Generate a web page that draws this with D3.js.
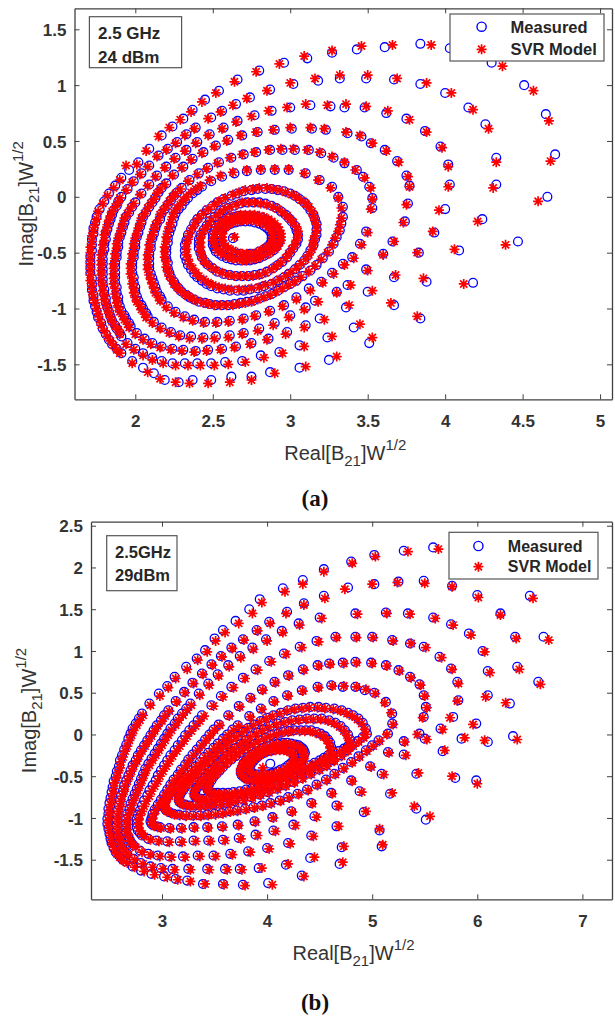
<!DOCTYPE html>
<html><head><meta charset="utf-8">
<script src="https://cdn.jsdelivr.net/npm/d3@7"></script>
<style>
body{margin:0;background:#fff}
svg{display:block;background:#fff}
</style></head>
<body><svg id="chart" width="615" height="1018"></svg>
<script>
// All point coordinates below are in hundredths of a unit (x = Real, y = Imag).
// ---------------- Panel (a) data : 2.5 GHz, 24 dBm ----------------
const aXTicks = [2, 2.5, 3, 3.5, 4, 4.5, 5];
const aXTickLabels = ["2", "2.5", "3", "3.5", "4", "4.5", "5"];
const aYTicks = [-1.5, -1, -0.5, 0, 0.5, 1, 1.5];
const aYTickLabels = ["-1.5", "-1", "-0.5", "0", "0.5", "1", "1.5"];

const aMeas1 = [466,0,471,38,465,74,451,100,430,120,403,133,384,137,361,134,343,132,327,129,311,124,296,120,280,113,266,105,254,95,245,87,237,78,231,70,224,63,217,55,209,43,202,31,196,24,191,17,187,10,183,3,180,-4,177,-11,175,-18,174,-23,173,-28,173,-33,172,-38,172,-43,172,-48,171,-53,171,-58,171,-63,171,-68,172,-73,172,-78,172,-83,173,-88,173,-93,174,-98,175,-103,176,-108,178,-113,179,-118,181,-123,183,-128,185,-132,188,-136,191,-140,198,-147,205,-153,212,-158,219,-164,228,-166,237,-164,249,-164,262,-161,275,-161,287,-157,306,-153,325,-146,351,-131,384,-109,418,-77,447,-40];
const aModel1 = [460,-4,468,32,467,68,457,95,437,117,410,131,391,136,366,136,346,135,327,131,309,126,293,119,278,112,264,103,252,93,243,85,236,76,229,69,222,62,215,54,207,41,201,29,194,28,190,15,186,8,182,1,179,-6,176,-13,175,-20,174,-25,173,-30,172,-35,172,-40,171,-45,171,-50,171,-55,171,-60,171,-65,171,-70,171,-75,172,-80,172,-85,173,-90,174,-95,175,-100,176,-105,177,-110,178,-115,180,-120,182,-125,184,-129,186,-133,188,-137,190,-140,198,-149,208,-157,216,-163,226,-166,235,-167,247,-167,261,-166,275,-164,290,-158,310,-152,330,-143,353,-126,382,-107,412,-78,439,-43];
const aMeas2 = [424,-20,433,11,433,35,426,65,415,80,400,93,384,101,367,105,349,106,332,106,318,104,302,101,287,96,274,89,265,83,256,77,249,71,239,62,233,56,227,49,221,43,215,37,209,28,204,21,199,14,195,7,191,0,189,-4,188,-8,186,-12,185,-16,184,-20,183,-24,182,-29,181,-33,181,-38,180,-42,180,-47,179,-51,179,-56,179,-60,179,-65,179,-69,179,-74,179,-78,180,-83,180,-87,181,-91,181,-95,182,-99,183,-103,184,-107,185,-111,187,-115,188,-118,190,-122,191,-125,195,-131,200,-136,205,-140,211,-144,217,-147,224,-149,232,-149,240,-149,249,-149,258,-148,269,-147,281,-142,293,-139,306,-133,324,-126,341,-117,367,-97,388,-76,409,-48];
const aModel2 = [421,-22,431,8,433,31,428,61,418,78,404,93,388,102,369,106,350,109,332,109,316,106,300,102,285,95,272,88,263,82,255,76,247,70,238,61,232,55,226,48,220,42,214,36,208,27,203,20,198,13,194,6,190,-1,189,-5,187,-9,185,-13,184,-17,183,-21,182,-25,181,-30,180,-34,180,-39,179,-43,179,-48,178,-52,178,-57,178,-61,178,-66,178,-70,178,-75,179,-79,179,-84,180,-88,180,-92,181,-96,182,-100,183,-104,184,-108,185,-112,187,-116,189,-119,190,-123,194,-132,199,-137,205,-142,211,-146,218,-149,226,-151,234,-151,242,-151,251,-151,260,-150,271,-148,283,-144,295,-140,309,-134,327,-125,345,-114,365,-95,386,-73,406,-47];
const aMeas3 = [400,-11,403,11,402,29,397,45,387,59,375,70,362,75,348,80,335,80,326,81,313,82,300,80,288,77,277,73,266,68,257,62,248,56,240,49,233,42,226,35,220,27,214,19,209,11,204,3,200,-5,198,-9,196,-14,194,-18,193,-23,192,-27,191,-32,190,-36,189,-41,189,-45,188,-50,188,-54,187,-59,187,-63,187,-68,187,-72,187,-77,188,-81,188,-86,189,-90,189,-94,190,-98,191,-102,193,-106,194,-109,196,-113,197,-116,201,-122,206,-127,211,-131,217,-134,224,-136,231,-137,239,-138,247,-137,256,-136,265,-134,275,-131,286,-127,298,-121,310,-115,319,-109,336,-99,350,-85,367,-72,383,-50,393,-32];
const aModel3 = [396,-12,402,9,402,27,398,44,388,58,377,69,363,77,349,81,336,83,324,82,310,83,298,80,286,77,275,72,265,67,256,61,247,55,239,48,232,41,225,34,219,26,213,18,208,10,203,2,199,-6,197,-10,195,-15,193,-19,192,-24,191,-28,190,-33,189,-37,188,-42,188,-46,187,-51,187,-55,186,-60,186,-64,186,-69,186,-73,186,-78,187,-82,187,-87,188,-91,188,-95,189,-99,190,-103,192,-107,193,-110,195,-114,196,-117,200,-123,205,-128,210,-132,216,-135,223,-137,230,-138,238,-139,246,-138,255,-137,264,-135,274,-132,285,-128,297,-123,309,-117,322,-110,338,-97,353,-84,368,-70,382,-50,392,-31];
const aMeas4 = [376,-6,377,10,375,19,369,32,361,42,352,48,346,54,337,57,323,60,314,61,301,61,290,60,279,58,269,55,260,51,252,46,244,40,237,34,231,27,225,20,220,12,217,8,215,4,213,-1,211,-5,209,-9,207,-14,205,-18,204,-23,203,-27,202,-32,201,-36,200,-41,200,-45,199,-50,199,-54,198,-59,198,-63,198,-68,199,-72,199,-77,200,-81,200,-85,201,-89,202,-93,204,-97,205,-100,207,-104,208,-107,212,-112,217,-117,223,-121,229,-124,236,-125,244,-126,252,-125,261,-124,270,-122,280,-118,290,-113,300,-106,310,-99,316,-93,330,-85,337,-79,349,-65,360,-51,366,-40,374,-22];
const aModel4 = [375,-7,377,9,376,18,370,31,362,41,353,48,345,55,336,58,322,61,313,62,300,62,289,60,278,58,268,55,259,50,251,45,243,39,236,33,230,26,224,19,219,11,216,7,214,3,212,-2,210,-6,208,-10,206,-15,204,-19,203,-24,202,-28,201,-33,200,-37,199,-42,199,-46,198,-51,198,-55,197,-60,197,-64,197,-69,198,-73,198,-78,199,-82,199,-86,200,-90,201,-94,203,-98,204,-101,206,-105,207,-108,211,-113,216,-118,222,-122,228,-125,235,-127,243,-127,251,-127,260,-126,269,-123,279,-120,289,-115,299,-108,309,-101,318,-94,330,-86,339,-79,350,-66,360,-52,367,-40,373,-23];
const aMeas5 = [353,-10,353,-1,351,9,347,18,343,24,335,30,328,35,320,39,312,42,303,42,295,42,287,42,278,40,270,38,262,35,254,31,247,26,241,21,235,15,230,8,227,4,225,1,223,-3,221,-7,219,-11,217,-15,216,-20,214,-24,213,-28,212,-33,211,-37,210,-42,210,-46,209,-51,209,-55,209,-60,209,-64,210,-69,211,-73,212,-77,213,-81,214,-85,216,-89,217,-92,221,-98,226,-103,232,-107,238,-110,245,-112,253,-112,261,-111,270,-109,278,-106,287,-102,296,-97,304,-90,312,-82,320,-76,327,-68,334,-60,340,-54,345,-42,349,-31];
const aModel5 = [352,-11,353,-2,352,8,348,17,342,24,335,31,327,36,319,40,311,42,302,43,294,43,286,42,277,40,269,38,261,35,253,30,246,25,240,20,234,14,229,7,226,3,224,0,222,-4,220,-8,218,-12,216,-16,215,-21,213,-25,212,-29,211,-34,210,-38,209,-43,209,-47,208,-52,208,-56,208,-61,208,-65,209,-70,210,-74,211,-78,212,-82,213,-86,215,-90,216,-93,220,-99,225,-104,231,-108,237,-111,244,-113,252,-113,260,-112,269,-110,277,-107,286,-103,295,-98,304,-92,313,-84,321,-77,328,-69,335,-61,341,-55,346,-43,350,-32];
const aMeas6 = [334,-9,331,0,327,9,319,15,310,21,299,24,290,24,281,24,272,23,264,21,256,18,249,14,243,9,240,6,237,3,234,-1,232,-4,230,-8,228,-11,226,-15,225,-19,224,-24,223,-28,222,-32,221,-37,221,-41,220,-46,220,-50,220,-55,221,-59,221,-64,222,-68,223,-72,225,-76,226,-79,228,-82,230,-85,233,-88,235,-90,238,-92,241,-94,245,-95,248,-96,252,-97,256,-97,260,-97,264,-96,268,-95,272,-94,276,-93,280,-91,284,-89,288,-87,292,-84,296,-81,300,-78,304,-75,308,-71,313,-66,317,-61,321,-55,325,-49,328,-42,330,-36,332,-30,333,-24,334,-18];
const aModel6 = [333,-10,331,-1,326,8,318,15,309,21,299,25,290,25,281,25,272,24,263,22,255,19,248,15,242,10,239,7,236,4,233,0,231,-3,229,-7,227,-10,225,-14,224,-18,223,-23,222,-27,221,-31,220,-36,220,-40,219,-45,219,-49,219,-54,220,-58,220,-63,221,-67,222,-71,224,-75,225,-78,227,-81,229,-84,232,-87,234,-89,237,-91,240,-93,244,-95,247,-96,251,-97,255,-97,259,-97,263,-97,267,-96,271,-95,275,-94,279,-92,283,-90,287,-88,291,-85,295,-82,299,-79,303,-76,307,-72,312,-67,316,-62,320,-56,324,-50,327,-43,329,-37,331,-31,332,-25,333,-19];
const aMeas7 = [316,-38,317,-34,317,-29,317,-24,316,-20,315,-16,313,-12,311,-8,309,-5,306,-2,303,1,300,3,296,5,292,6,288,7,284,7,279,7,275,6,270,5,266,3,262,1,257,-2,253,-5,250,-8,246,-12,243,-16,240,-20,238,-24,236,-29,234,-34,233,-39,232,-43,232,-48,232,-53,233,-57,234,-61,236,-65,238,-69,240,-72,243,-75,246,-78,249,-80,253,-82,257,-83,261,-84,266,-84,270,-84,274,-83,279,-82,283,-80,288,-78,292,-75,296,-72,299,-69,303,-65,306,-61,309,-57,311,-53,313,-48,315,-43];
const aModel7 = [315,-39,316,-35,317,-30,317,-25,316,-21,315,-17,314,-13,312,-9,310,-6,307,-3,304,0,301,2,297,4,293,6,289,7,285,8,280,8,276,7,271,6,267,4,263,2,258,-1,254,-4,251,-7,247,-11,244,-15,241,-19,239,-23,237,-28,235,-33,234,-38,233,-42,233,-47,233,-52,234,-56,235,-60,237,-64,239,-68,241,-71,244,-74,247,-77,250,-79,254,-81,258,-82,262,-83,267,-83,271,-83,275,-82,280,-81,284,-79,289,-77,293,-74,297,-71,300,-68,304,-64,307,-60,310,-56,312,-52,314,-47,315,-43];
const aMeas8 = [305,-38,305,-34,304,-30,303,-26,301,-22,299,-19,297,-16,294,-13,291,-10,288,-8,284,-6,280,-5,276,-5,272,-5,268,-6,264,-8,260,-10,257,-12,254,-15,251,-18,248,-22,246,-26,244,-30,242,-34,241,-38,241,-42,241,-46,242,-50,243,-54,245,-58,247,-61,250,-64,253,-67,257,-69,261,-70,265,-71,269,-71,273,-71,277,-70,281,-69,285,-67,289,-64,292,-61,295,-58,298,-54,300,-50,302,-46,304,-42];
const aModel8 = [304,-39,305,-35,305,-31,304,-27,302,-23,300,-20,298,-17,295,-14,292,-11,289,-9,285,-7,281,-6,277,-5,273,-5,269,-5,265,-7,261,-9,258,-11,255,-14,252,-17,249,-21,247,-25,245,-29,243,-33,242,-37,242,-41,242,-45,242,-49,243,-53,244,-57,246,-60,249,-63,252,-66,256,-68,260,-70,264,-71,268,-71,272,-71,276,-71,280,-70,284,-68,288,-65,291,-62,294,-59,297,-55,299,-51,301,-47,303,-43];
const aMeas9 = [293,-37,293,-34,292,-31,291,-28,289,-25,287,-23,285,-21,282,-19,279,-18,276,-17,273,-17,270,-17,267,-17,264,-18,261,-19,258,-21,256,-23,254,-25,252,-28,251,-31,250,-34,250,-37,250,-40,250,-43,251,-46,252,-49,254,-51,256,-53,259,-55,262,-56,265,-57,268,-57,271,-57,274,-57,277,-56,280,-55,283,-53,286,-51,289,-48,291,-45,292,-42,293,-40];
const aModel9 = [294,-36,294,-33,293,-30,292,-27,290,-24,288,-22,286,-20,283,-18,280,-17,277,-16,274,-16,271,-16,268,-16,265,-17,262,-18,259,-20,257,-22,255,-24,253,-27,252,-30,251,-33,251,-36,250,-39,251,-42,252,-45,253,-48,255,-50,257,-52,260,-54,263,-55,266,-56,269,-57,272,-57,275,-56,278,-55,281,-54,284,-52,287,-50,290,-47,292,-44,293,-41,294,-39];
const aMeas10 = [288,-37,288,-34,287,-31,285,-28,283,-26,280,-24,277,-23,274,-22,271,-22,268,-22,265,-23,262,-24,259,-26,257,-28,256,-31,255,-34,255,-37,255,-40,256,-43,257,-45,259,-47,262,-49,265,-51,268,-51,271,-52,274,-51,277,-51,280,-49,283,-47,285,-45,287,-42,288,-40];
const aModel10 = [289,-36,289,-33,288,-30,286,-27,284,-25,281,-23,278,-22,275,-21,272,-21,269,-21,266,-22,263,-23,260,-25,258,-27,257,-30,256,-33,256,-36,256,-39,257,-42,258,-44,260,-46,263,-48,266,-50,269,-51,272,-51,275,-51,278,-50,281,-48,284,-46,286,-44,288,-41,289,-39];
const aMeasCenter = [263,-37];
const aModelCenter = [264,-36];

// ---------------- Panel (b) data : 2.5 GHz, 29 dBm ----------------
const bXTicks = [3, 4, 5, 6, 7];
const bXTickLabels = ["3", "4", "5", "6", "7"];
const bYTicks = [-1.5, -1, -0.5, 0, 0.5, 1, 1.5, 2, 2.5];
const bYTickLabels = ["-1.5", "-1", "-0.5", "0", "0.5", "1", "1.5", "2", "2.5"];

const bMeas1 = [634,-2,658,63,663,117,650,166,608,202,558,224,530,220,502,215,480,207,454,198,434,185,415,175,393,162,383,150,370,136,358,125,350,115,341,101,333,91,323,81,312,69,305,58,297,49,288,37,281,25,278,19,275,13,272,7,270,1,268,-5,266,-12,264,-18,262,-25,260,-31,259,-38,257,-44,256,-50,254,-56,253,-63,252,-69,251,-76,250,-82,249,-89,249,-95,248,-101,248,-107,249,-113,250,-119,251,-125,252,-130,254,-136,256,-141,259,-145,262,-149,265,-152,272,-158,280,-163,290,-167,302,-170,313,-173,324,-175,339,-179,358,-179,377,-180,401,-178,433,-169,469,-155,509,-134,551,-102,599,-55];
const bModel1 = [638,-6,660,60,668,113,653,163,610,200,563,222,534,219,503,213,481,205,454,195,434,180,417,171,395,158,386,145,373,133,360,122,351,112,343,99,334,89,324,78,313,67,306,56,298,46,289,35,282,23,279,17,276,11,273,5,271,-1,269,-7,267,-14,265,-20,263,-27,261,-33,260,-40,258,-46,257,-52,255,-58,254,-65,253,-71,252,-78,251,-84,250,-91,250,-97,249,-103,249,-109,250,-115,251,-121,252,-127,253,-132,255,-138,257,-143,260,-147,263,-151,267,-154,274,-159,283,-164,293,-168,305,-171,315,-174,327,-176,341,-179,359,-180,379,-181,405,-180,435,-170,472,-153,510,-132,555,-98,600,-59];
const bMeas2 = [610,-9,631,37,638,81,636,117,622,145,600,167,576,178,549,184,525,183,502,180,477,176,454,166,435,157,419,147,402,135,390,125,377,114,366,104,356,94,347,84,338,73,329,62,321,51,313,40,306,29,302,23,299,17,295,11,292,5,289,-1,286,-7,283,-13,280,-19,277,-25,275,-31,272,-37,270,-43,268,-49,266,-55,264,-61,263,-67,261,-73,260,-79,259,-85,258,-91,257,-97,257,-103,257,-109,257,-115,258,-121,259,-126,260,-131,262,-135,264,-139,267,-143,273,-149,280,-154,289,-158,299,-160,310,-161,325,-161,343,-161,360,-161,374,-161,392,-160,418,-156,441,-148,471,-135,507,-115,542,-89,579,-52];
const bModel2 = [607,-7,627,38,640,78,637,115,622,143,601,164,576,177,550,181,524,182,500,180,474,174,455,163,435,155,418,145,403,133,391,124,378,113,367,103,357,93,348,83,339,72,330,61,322,50,314,39,307,28,303,22,300,16,296,10,293,4,290,-2,287,-8,284,-14,281,-20,278,-26,276,-32,273,-38,271,-44,269,-50,267,-56,265,-62,264,-68,262,-74,261,-80,260,-86,259,-92,258,-98,258,-104,258,-110,258,-116,259,-122,260,-127,261,-132,263,-136,265,-140,268,-144,274,-150,282,-155,291,-159,301,-161,312,-162,327,-162,345,-162,362,-162,376,-162,395,-160,420,-155,445,-147,473,-134,507,-113,540,-86,576,-50];
const bMeas3 = [599,13,610,47,610,76,605,100,592,121,575,132,558,140,534,145,513,146,484,145,450,140,430,133,414,124,399,114,386,104,374,94,363,83,353,72,344,61,335,49,327,37,323,31,319,25,315,19,312,13,308,7,305,1,302,-5,299,-11,296,-17,293,-23,290,-29,287,-35,284,-41,282,-47,280,-53,278,-59,276,-65,274,-71,272,-77,270,-83,269,-89,267,-95,266,-101,266,-106,266,-112,266,-117,268,-122,269,-126,271,-130,273,-133,279,-139,287,-143,296,-145,307,-146,320,-146,334,-145,349,-145,365,-143,382,-140,400,-136,420,-130,442,-121,466,-110,492,-93,517,-71,542,-47,567,-20,585,-5];
const bModel3 = [596,12,608,45,612,74,607,99,594,119,577,131,560,139,536,144,514,145,486,144,452,139,431,131,415,122,400,112,387,102,375,92,364,81,354,70,345,59,336,47,328,35,324,29,320,23,316,17,313,11,309,5,306,-1,303,-7,300,-13,297,-19,294,-25,291,-31,288,-37,285,-43,283,-49,281,-55,279,-61,277,-67,275,-73,273,-79,271,-85,270,-91,268,-97,267,-103,267,-108,267,-114,267,-119,269,-124,270,-128,272,-132,275,-135,281,-141,289,-144,298,-146,309,-147,322,-147,336,-146,351,-146,367,-144,384,-141,402,-137,422,-131,444,-122,468,-110,494,-92,519,-70,544,-46,569,-19,588,-4];
const bMeas4 = [577,21,582,41,581,63,575,79,564,93,549,105,536,109,519,113,500,117,484,117,465,117,447,112,431,105,416,97,402,88,389,78,377,68,366,57,356,46,347,35,338,23,334,17,330,11,326,5,322,-1,319,-7,315,-13,312,-19,308,-25,305,-31,302,-37,299,-43,296,-49,294,-55,291,-61,288,-67,286,-73,283,-79,281,-85,279,-91,277,-96,276,-101,276,-106,276,-111,277,-115,279,-118,281,-121,287,-125,295,-127,305,-128,317,-128,330,-127,344,-127,358,-126,373,-124,389,-120,406,-115,425,-108,445,-98,466,-85,488,-68,509,-47,530,-24,550,-5,565,7];
const bModel4 = [574,20,581,40,582,61,576,78,566,92,551,104,537,109,520,112,501,116,485,116,466,116,449,111,433,104,418,96,404,87,391,77,379,67,368,56,358,45,349,34,340,22,336,16,332,10,328,4,324,-2,321,-8,317,-14,314,-20,310,-26,307,-32,304,-38,301,-44,298,-50,296,-56,293,-62,290,-68,288,-74,285,-80,283,-86,281,-92,279,-97,278,-102,278,-107,278,-112,279,-116,281,-119,283,-122,289,-126,297,-128,307,-129,319,-129,332,-128,346,-128,360,-127,375,-125,391,-121,408,-116,427,-109,447,-99,468,-86,490,-69,511,-48,532,-25,552,-6,567,6];
const bMeas5 = [545,1,549,21,551,33,549,47,545,60,536,69,525,77,513,83,499,86,484,87,472,86,459,85,448,83,434,78,420,71,407,63,395,54,384,44,373,34,363,23,354,12,349,6,345,0,341,-6,337,-12,333,-18,329,-24,325,-30,322,-36,318,-42,315,-48,311,-54,308,-60,305,-66,302,-72,299,-78,296,-84,293,-90,291,-95,290,-100,289,-104,290,-107,292,-109,295,-110,298,-111,307,-112,318,-112,330,-111,343,-111,357,-110,372,-108,388,-104,405,-99,423,-92,442,-82,461,-70,480,-55,498,-38,515,-21,530,-8];
const bModel5 = [543,0,548,20,552,32,550,46,546,59,537,68,526,76,514,82,500,85,485,86,473,85,460,84,449,82,435,77,421,70,408,62,396,53,385,43,374,33,364,22,355,11,350,5,346,-1,342,-7,338,-13,334,-19,330,-25,326,-31,323,-37,319,-43,316,-49,312,-55,309,-61,306,-67,303,-73,300,-79,297,-85,294,-91,292,-96,291,-101,290,-105,291,-108,293,-110,296,-111,299,-112,308,-113,319,-113,331,-112,344,-112,358,-111,373,-109,389,-105,406,-100,424,-93,443,-83,462,-71,481,-56,499,-39,516,-22,531,-9];
const bMeas6 = [515,1,519,13,519,25,513,39,502,50,493,53,484,57,472,57,461,59,448,57,433,53,419,47,406,40,394,31,383,22,372,11,367,6,362,0,358,-5,353,-11,349,-16,344,-22,340,-27,336,-33,332,-38,328,-43,324,-48,321,-52,318,-56,315,-60,312,-64,310,-67,308,-70,306,-73,304,-76,303,-78,302,-81,302,-84,302,-87,303,-89,304,-91,307,-93,311,-95,316,-96,322,-97,329,-97,336,-97,343,-96,350,-95,357,-94,364,-92,371,-91,379,-89,387,-87,395,-85,403,-82,412,-79,420,-75,429,-71,438,-66,447,-60,456,-54,464,-47,472,-40,480,-33,487,-26,494,-19,500,-13,506,-7];
const bModel6 = [514,0,520,12,518,26,512,38,503,49,494,54,485,57,473,58,462,58,449,56,434,52,420,46,407,39,395,30,384,21,373,10,368,5,363,-1,359,-6,354,-12,350,-17,345,-23,341,-28,337,-34,333,-39,329,-44,325,-49,322,-53,319,-57,316,-61,313,-65,311,-68,309,-71,307,-74,305,-77,304,-79,303,-82,303,-85,303,-88,304,-90,305,-92,308,-94,312,-96,317,-97,323,-98,330,-98,337,-98,344,-97,351,-96,358,-95,365,-93,372,-92,380,-90,388,-88,396,-86,404,-83,413,-80,421,-76,430,-72,439,-67,448,-61,457,-55,465,-48,473,-41,481,-34,488,-27,495,-20,501,-14,507,-8];
const bMeas7 = [495,1,494,7,491,14,487,19,482,23,477,26,471,29,464,31,456,32,449,33,441,33,434,32,427,31,420,29,413,26,406,23,400,20,394,16,388,12,382,8,377,3,372,-2,367,-7,362,-12,358,-17,353,-22,349,-27,345,-32,341,-37,337,-42,334,-47,331,-51,328,-55,325,-59,322,-63,320,-67,318,-70,317,-73,316,-76,316,-79,317,-81,319,-83,322,-84,326,-85,331,-85,336,-85,342,-85,348,-84,355,-83,362,-82,369,-80,377,-78,385,-75,393,-72,401,-69,409,-65,417,-61,425,-57,433,-52,441,-47,449,-42,456,-37,463,-31,470,-25,476,-19,481,-13,486,-8,491,-3];
const bModel7 = [494,0,493,6,490,13,486,18,481,22,476,25,470,28,463,30,455,31,448,32,440,32,433,31,426,30,419,28,412,25,405,22,399,19,393,15,387,11,381,7,376,2,371,-3,366,-8,361,-13,357,-18,352,-23,348,-28,344,-33,340,-38,336,-43,333,-48,330,-52,327,-56,324,-60,321,-64,319,-68,317,-71,316,-74,316,-77,316,-80,318,-82,320,-84,323,-85,327,-86,332,-86,337,-86,343,-86,349,-85,356,-84,363,-83,370,-81,378,-79,386,-76,394,-73,402,-70,410,-66,418,-62,426,-58,434,-53,442,-48,450,-43,457,-38,464,-32,471,-26,477,-20,482,-14,487,-9,492,-4];
const bMeas8 = [480,-12,479,-6,477,0,474,5,470,10,465,14,459,17,452,19,445,19,438,19,431,18,424,17,417,15,410,13,403,10,397,6,391,2,385,-2,380,-7,375,-11,370,-16,366,-20,362,-25,358,-29,354,-34,351,-38,347,-43,344,-47,341,-52,338,-56,336,-60,334,-63,332,-67,331,-70,331,-73,332,-75,334,-76,337,-77,341,-77,346,-77,351,-77,357,-76,363,-75,369,-74,376,-72,383,-70,390,-68,397,-65,404,-62,411,-59,418,-55,425,-51,432,-47,439,-43,445,-38,451,-34,457,-29,463,-25,468,-20,473,-17,477,-14];
const bModel8 = [479,-13,478,-7,476,-1,473,4,469,9,464,13,458,16,451,18,444,18,437,18,430,17,423,16,416,14,409,12,402,9,396,5,390,1,384,-3,379,-8,374,-12,369,-17,365,-21,361,-26,357,-30,353,-35,350,-39,346,-44,343,-48,340,-53,337,-57,335,-61,333,-64,331,-68,330,-71,331,-74,333,-76,335,-77,338,-78,342,-78,347,-78,352,-78,358,-77,364,-76,370,-75,377,-73,384,-71,391,-69,398,-66,405,-63,412,-60,419,-56,426,-52,433,-48,440,-44,446,-39,452,-35,458,-30,464,-26,469,-21,474,-18,478,-15];
const bMeas9 = [462,-20,461,-15,460,-10,458,-6,455,-2,451,1,447,3,442,5,437,5,432,5,426,5,421,4,415,3,410,1,404,-1,399,-4,393,-7,388,-11,383,-14,378,-18,374,-22,370,-26,366,-30,362,-34,358,-39,355,-43,352,-47,349,-51,347,-55,345,-59,344,-62,343,-65,344,-67,346,-69,349,-70,353,-70,358,-70,363,-70,368,-69,374,-68,380,-66,386,-64,392,-62,398,-59,404,-56,410,-53,416,-50,422,-47,428,-43,434,-40,440,-37,445,-34,450,-31,454,-28,458,-25];
const bModel9 = [461,-21,460,-16,459,-11,457,-7,454,-3,450,0,446,2,441,4,436,4,431,4,425,4,420,3,414,2,409,0,403,-2,398,-5,392,-8,387,-12,382,-15,377,-19,373,-23,369,-27,365,-31,361,-35,357,-40,354,-44,351,-48,348,-52,346,-56,344,-60,343,-63,343,-66,345,-68,347,-70,350,-71,354,-71,359,-71,364,-71,369,-70,375,-69,381,-67,387,-65,393,-63,399,-60,405,-57,411,-54,417,-51,423,-48,429,-44,435,-41,441,-38,446,-35,451,-32,455,-29,459,-26];
const bMeas10 = [436,-22,435,-19,434,-17,432,-15,430,-13,427,-12,423,-11,419,-10,415,-10,410,-11,406,-12,401,-14,397,-16,393,-19,389,-21,386,-24,383,-27,380,-31,378,-34,377,-37,376,-40,375,-43,375,-46,376,-49,378,-51,380,-53,384,-54,388,-55,392,-55,396,-54,400,-54,405,-52,409,-51,414,-48,418,-46,422,-43,426,-40,429,-36,432,-32,434,-28,435,-25];
const bModel10 = [435,-23,434,-20,433,-18,431,-16,429,-14,426,-13,422,-12,418,-11,414,-11,409,-12,405,-13,400,-15,396,-17,392,-20,388,-22,385,-25,382,-28,379,-32,377,-35,376,-38,375,-41,375,-44,375,-47,377,-50,379,-52,381,-54,385,-55,389,-56,393,-56,397,-55,401,-55,406,-53,410,-52,415,-49,419,-47,423,-44,427,-41,430,-37,433,-33,435,-29,435,-26];
const bMeas11 = [426,-25,425,-22,423,-20,420,-19,417,-18,413,-18,409,-18,405,-19,401,-20,397,-22,394,-24,391,-27,389,-29,387,-32,385,-35,384,-38,383,-41,384,-44,386,-46,389,-48,392,-48,396,-48,399,-48,403,-47,406,-46,410,-44,413,-42,417,-40,420,-37,423,-34,425,-31,426,-28];
const bModel11 = [425,-26,424,-23,422,-21,419,-20,416,-19,412,-19,408,-19,404,-20,400,-21,396,-23,393,-25,390,-28,388,-30,386,-33,384,-36,383,-39,383,-42,384,-45,387,-47,390,-49,393,-49,397,-49,400,-49,404,-48,407,-47,411,-45,414,-43,418,-41,421,-38,424,-35,425,-32,426,-29];
const bMeasCenter = [403,-35];
const bModelCenter = [396,-40];

// ---------------- helpers ----------------
const pairs = arr => { const p = []; for (let i = 0; i < arr.length; i += 2) p.push([arr[i] / 100, arr[i + 1] / 100]); return p; };
const svg = d3.select("#chart");
const SANS = "'Liberation Sans', Arial, Helvetica, sans-serif";
const SERIF = "'Liberation Serif', 'Times New Roman', Times, serif";
const STAR = "M-5,0H5M0,-5V5M-3.6,-3.6L3.6,3.6M-3.6,3.6L3.6,-3.6";
const AXC = "#404040";

function drawPanel(cfg) {
  const x = d3.scaleLinear().domain(cfg.xDomain).range([cfg.left, cfg.right]);
  const y = d3.scaleLinear().domain(cfg.yDomain).range([cfg.bottom, cfg.top]);
  const g = svg.append("g").style("font-family", SANS);

  const meas = cfg.meas.flatMap(pairs);
  const model = cfg.model.flatMap(pairs);

  g.append("g").selectAll("circle").data(meas).join("circle")
    .attr("cx", d => x(d[0])).attr("cy", d => y(d[1])).attr("r", 4.4)
    .attr("fill", "none").attr("stroke", "#0000ff").attr("stroke-width", 1.3);
  g.append("g").selectAll("path").data(model).join("path")
    .attr("transform", d => `translate(${x(d[0])},${y(d[1])})`)
    .attr("d", STAR).attr("fill", "none").attr("stroke", "#ff0000").attr("stroke-width", 1.7);

  const fmtX = d => cfg.xLabels[cfg.xTicks.indexOf(d)];
  const fmtY = d => cfg.yLabels[cfg.yTicks.indexOf(d)];
  const ax = g.append("g").attr("transform", `translate(0,${cfg.bottom})`)
    .call(d3.axisBottom(x).tickValues(cfg.xTicks).tickFormat(fmtX).tickSize(-5).tickSizeOuter(0));
  ax.selectAll("text").attr("y", 28).attr("dy", null);
  const at = g.append("g").attr("transform", `translate(0,${cfg.top})`)
    .call(d3.axisTop(x).tickValues(cfg.xTicks).tickFormat("").tickSize(-5).tickSizeOuter(0));
  const ay = g.append("g").attr("transform", `translate(${cfg.left},0)`)
    .call(d3.axisLeft(y).tickValues(cfg.yTicks).tickFormat(fmtY).tickSize(-5).tickSizeOuter(0));
  ay.selectAll("text").attr("x", -8).attr("dy", "0.36em");
  const ar = g.append("g").attr("transform", `translate(${cfg.right},0)`)
    .call(d3.axisRight(y).tickValues(cfg.yTicks).tickFormat("").tickSize(-5).tickSizeOuter(0));
  [ax, at, ay, ar].forEach(a => {
    a.attr("font-family", null).attr("font-size", null);
    a.select(".domain").attr("stroke", AXC).attr("stroke-width", 1.3);
    a.selectAll(".tick line").attr("stroke", AXC).attr("stroke-width", 1);
    a.selectAll("text").attr("fill", "#333").style("font-size", "17px").style("font-weight", "bold")
      .style("font-family", SANS);
  });

  const xt = g.append("text").attr("x", (cfg.left + cfg.right) / 2 + cfg.xTitleDx).attr("y", cfg.xTitleY)
    .attr("text-anchor", "middle").attr("fill", "#333").style("font-size", "20px");
  xt.append("tspan").text("Real[B");
  xt.append("tspan").attr("dy", 6).style("font-size", "15px").text("21");
  xt.append("tspan").attr("dy", -6).text("]W");
  xt.append("tspan").attr("dy", -10).style("font-size", "15px").text("1/2");

  const yt = g.append("text").attr("transform", `translate(${cfg.yTitleX},${(cfg.top + cfg.bottom) / 2}) rotate(-90)`)
    .attr("text-anchor", "middle").attr("fill", "#333").style("font-size", "20px");
  yt.append("tspan").text("Imag[B");
  yt.append("tspan").attr("dy", 6).style("font-size", "15px").text("21");
  yt.append("tspan").attr("dy", -6).text("]W");
  yt.append("tspan").attr("dy", -10).style("font-size", "15px").text("1/2");

  const an = cfg.note;
  g.append("rect").attr("x", an.x).attr("y", an.y).attr("width", an.w).attr("height", an.h)
    .attr("fill", "#fff").attr("stroke", "#555").attr("stroke-width", 1.2);
  an.lines.forEach((t, i) => g.append("text").attr("x", an.x + an.pad).attr("y", an.base[i])
    .style("font-size", an.fs + "px").style("font-weight", "bold").attr("fill", "#262626").text(t));

  const lg = cfg.legend;
  g.append("rect").attr("x", lg.x).attr("y", lg.y).attr("width", lg.w).attr("height", lg.h)
    .attr("fill", "#fff").attr("stroke", "#555").attr("stroke-width", 1.2);
  g.append("circle").attr("cx", lg.mx).attr("cy", lg.y1).attr("r", 4.6)
    .attr("fill", "none").attr("stroke", "#0000ff").attr("stroke-width", 1.4);
  g.append("path").attr("transform", `translate(${lg.mx},${lg.y2})`).attr("d", STAR)
    .attr("fill", "none").attr("stroke", "#ff0000").attr("stroke-width", 1.7);
  [["Measured", lg.y1], ["SVR Model", lg.y2]].forEach(([t, yy]) =>
    g.append("text").attr("x", lg.tx).attr("y", yy).attr("dy", "0.36em").style("font-size", lg.fs + "px")
      .style("font-weight", "bold").attr("fill", "#262626").text(t));

  g.append("text").attr("x", 315).attr("y", cfg.capY).attr("text-anchor", "middle")
    .style("font-family", SERIF).style("font-weight", "bold")
    .style("font-size", "23px").attr("fill", "#111").text(cfg.caption);
}

drawPanel({
  left: 74.5, right: 612, top: 8.3, bottom: 399.3,
  xDomain: [1.6075, 5.077], yDomain: [-1.813, 1.688],
  xTicks: aXTicks, xLabels: aXTickLabels, yTicks: aYTicks, yLabels: aYTickLabels,
  meas: [aMeas1, aMeas2, aMeas3, aMeas4, aMeas5, aMeas6, aMeas7, aMeas8, aMeas9, aMeas10, aMeasCenter],
  model: [aModel1, aModel2, aModel3, aModel4, aModel5, aModel6, aModel7, aModel8, aModel9, aModel10, aModelCenter],
  xTitleY: 460, xTitleDx: 2, yTitleX: 33,
  note: {x: 89.4, y: 16.7, w: 92.2, h: 51, pad: 8.6, base: [39.3, 63.3], fs: 17, lines: ["2.5 GHz", "24 dBm"]},
  legend: {x: 450, y: 14, w: 154, h: 47, mx: 481.6, y1: 26.7, y2: 49.3, tx: 510.6, fs: 16.5},
  caption: "(a)", capY: 506
});

drawPanel({
  left: 91, right: 612, top: 521.7, bottom: 899.3,
  xDomain: [2.3245, 7.2816], yDomain: [-1.974, 2.548],
  xTicks: bXTicks, xLabels: bXTickLabels, yTicks: bYTicks, yLabels: bYTickLabels,
  meas: [bMeas1, bMeas2, bMeas3, bMeas4, bMeas5, bMeas6, bMeas7, bMeas8, bMeas9, bMeas10, bMeas11, bMeasCenter],
  model: [bModel1, bModel2, bModel3, bModel4, bModel5, bModel6, bModel7, bModel8, bModel9, bModel10, bModel11, bModelCenter],
  xTitleY: 960, xTitleDx: 2, yTitleX: 36,
  note: {x: 106.7, y: 535.7, w: 70.3, h: 55, pad: 8.3, base: [558.3, 581], fs: 16.5, lines: ["2.5GHz", "29dBm"]},
  legend: {x: 449, y: 532.3, w: 149, h: 46.7, mx: 478.4, y1: 546, y2: 566.7, tx: 507.8, fs: 16},
  caption: "(b)", capY: 1010
});
</script></body></html>
